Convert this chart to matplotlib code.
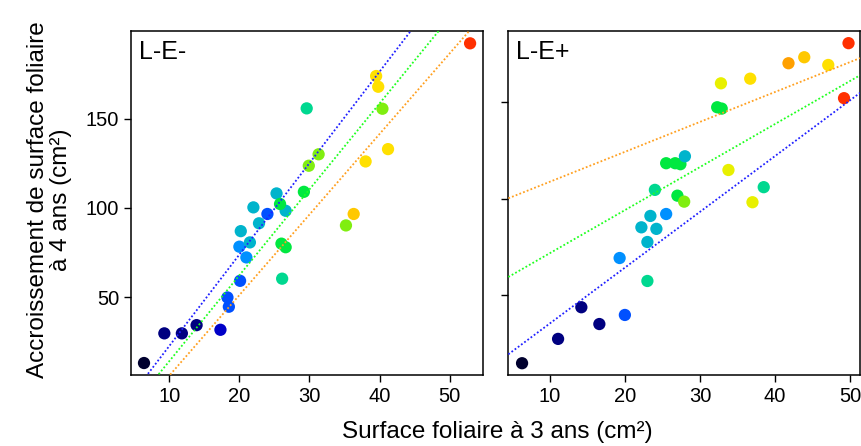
import matplotlib
matplotlib.use("Agg")
import matplotlib.pyplot as plt
import numpy as np
from matplotlib.colors import ListedColormap


plt.rcParams["font.family"] = ["Liberation Sans", "DejaVu Sans"]

# couleurs des points (niveaux 0..13)
_PALETTE = ["#00002e", "#000080", "#0000c8", "#0050ff", "#0090ff",
            "#00b4cc", "#00d890", "#00e840", "#80ee10", "#e8f000",
            "#ffe000", "#ffc800", "#ffa000", "#ff3000"]

# L-E-
lm_x = [6.4, 9.3, 11.8, 13.9, 17.3, 18.3, 18.5, 20.1, 20.0, 21.0, 21.5,
        20.2, 22.8, 24.0, 22.0, 26.6, 25.3, 25.8, 29.2, 26.0, 26.6, 26.1,
        29.6, 29.9, 31.3, 40.4, 35.2, 36.3, 38.0, 41.2, 39.5, 39.8, 52.9]
lm_y = [13.2, 29.8, 29.8, 34.4, 31.8, 49.9, 44.7, 59.2, 78.3, 72.3, 80.7,
        87.0, 91.4, 96.6, 100.3, 98.4, 108.1, 102.2, 109.0, 80.0, 78.0, 60.4,
        155.7, 123.6, 130.0, 155.5, 90.2, 96.6, 126.0, 132.9, 173.8, 167.8,
        192.1]
lm_lvl = [0, 1, 1, 1, 2, 3, 3, 3, 4, 4, 5,
          5, 5, 3, 5, 5, 5, 7, 7, 7, 7, 6,
          6, 8, 8, 8, 8, 11, 10, 10, 10, 10, 13]

# L-E+
lp_x = [6.3, 11.1, 14.2, 16.6, 20.0, 19.3, 23.0, 23.0, 22.2, 24.2, 23.4,
        25.5, 24.0, 27.0, 27.9, 38.5, 37.0, 25.5, 26.7, 27.4, 28.0, 33.8,
        32.3, 32.9, 32.8, 36.7, 41.8, 43.9, 47.1, 49.2, 49.8]
lp_y = [14.8, 27.4, 43.8, 35.1, 39.8, 69.3, 57.4, 77.6, 85.2, 84.4, 91.1,
        92.1, 104.6, 101.6, 98.5, 106.0, 98.2, 118.4, 118.4, 117.9, 122.0,
        114.9, 147.4, 146.7, 159.8, 162.2, 170.2, 173.3, 169.3, 152.1, 180.6]
lp_lvl = [0, 1, 1, 1, 3, 4, 6, 5, 5, 5, 5,
          4, 6, 7, 8, 6, 9, 7, 7, 7, 5, 9,
          7, 7, 9, 10, 12, 11, 10, 13, 13]

# droites (pente, ordonnée à l'origine)
_LINE_COLORS = ["#2020ff", "#20ff20", "#ffa020"]
lm_fits = [(5.12, -28.5), (4.81, -33.9), (4.51, -39.0)]
lp_fits = [(2.89, 6.5), (2.23, 49.5), (1.55, 93.3)]


def _draw_panel(ax, xs, ys, lvl, fits, title, x_lim, y_lim):
    cmap = ListedColormap(_PALETTE)
    ax.scatter(xs, ys, c=lvl, cmap=cmap, vmin=-0.5, vmax=13.5,
               s=78, linewidths=0, zorder=2)
    line_x = np.array(x_lim)
    for (slope, icpt), col in zip(fits, _LINE_COLORS):
        ax.plot(line_x, slope * line_x + icpt, linestyle=(0, (1, 1.2)),
                color=col, linewidth=1.3, zorder=3)
    ax.set_xlim(*x_lim)
    ax.set_ylim(*y_lim)
    ax.set_xticks([10, 20, 30, 40, 50])
    ax.set_yticks([50, 100, 150])
    ax.tick_params(direction="out", length=5, width=1, labelsize=14.5)
    for sp in ax.spines.values():
        sp.set_linewidth(1.1)
    ax.text(0.022, 0.975, title, transform=ax.transAxes, fontsize=18,
            va="top", ha="left")


fig = plt.figure(figsize=(8.62, 4.46), dpi=100)
ax_l = fig.add_axes([0.152, 0.1592, 0.4088, 0.7713])
ax_r = fig.add_axes([0.5897, 0.1592, 0.408, 0.7713])

_draw_panel(ax_l, lm_x, lm_y, lm_lvl, lm_fits, "L-E-",
            (4.55, 54.8), (6.5, 199.0))
_draw_panel(ax_r, lp_x, lp_y, lp_lvl, lp_fits, "L-E+",
            (4.47, 51.33), (8.7, 186.9))
ax_r.set_yticklabels([])

fig.text(0.057, 0.552, "Accroissement de surface foliaire\nà 4 ans (cm²)",
         rotation=90, ha="center", va="center", fontsize=17.5,
         linespacing=1.05)
fig.text(0.577, 0.031, "Surface foliaire à 3 ans (cm²)",
         ha="center", va="center", fontsize=17.5)

fig.savefig("out.png", dpi=100)
